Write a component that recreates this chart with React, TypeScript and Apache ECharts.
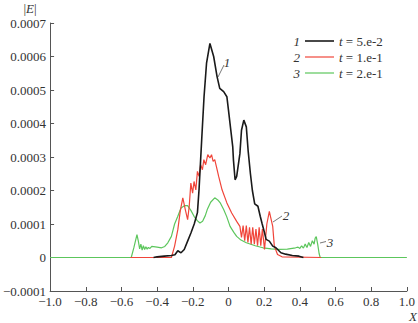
import React, { useEffect, useRef } from "react";
import * as echarts from "echarts";

const xTicks = [-1.0, -0.8, -0.6, -0.4, -0.2, 0, 0.2, 0.4, 0.6, 0.8, 1.0];
const yTicks = [-0.0001, 0, 0.0001, 0.0002, 0.0003, 0.0004, 0.0005, 0.0006, 0.0007];

const legendLabels = ["t = 5.e-2", "t = 1.e-1", "t = 2.e-1"];
const curveNumbers = ["1", "2", "3"];

// t = 5.e-2 (black)
const blackX = [-0.42, -0.4, -0.36, -0.32, -0.3, -0.284, -0.266, -0.248, -0.229, -0.21, -0.192, -0.174, -0.165, -0.156, -0.15, -0.137, -0.123, -0.104, -0.083, -0.064, -0.049, -0.027, -0.009, 0.0, 0.013, 0.024, 0.028, 0.037, 0.046, 0.064, 0.073, 0.086, 0.1, 0.11, 0.123, 0.134, 0.147, 0.165, 0.178, 0.189, 0.202, 0.211, 0.229, 0.248, 0.266, 0.294, 0.32, 0.358, 0.395, 0.42];
const blackY = [0, 0.000002, 0.000004, 0.000006, 0.000008, 0.00002, 0.000014, 0.000024, 0.000049, 0.000074, 0.0001, 0.000134, 0.000203, 0.000293, 0.000353, 0.00048, 0.00058, 0.000639, 0.0006, 0.00054, 0.000505, 0.000495, 0.00048, 0.00044, 0.00038, 0.00033, 0.00029, 0.000232, 0.000242, 0.00031, 0.00038, 0.00041, 0.00039, 0.00032, 0.00025, 0.0002, 0.00016, 0.000153, 0.000123, 0.0001, 0.000074, 0.000054, 0.000049, 0.000034, 0.000029, 0.000014, 0.00001, 0.000006, 0.000004, 0];

// t = 1.e-1 (red)
const redX = [-0.55, -0.32, -0.302, -0.284, -0.27, -0.256, -0.242, -0.229, -0.22, -0.211, -0.201, -0.193, -0.183, -0.174, -0.165, -0.156, -0.146, -0.138, -0.128, -0.116, -0.104, -0.095, -0.086, -0.077, -0.068, -0.055, -0.036, -0.009, 0.018, 0.046, 0.064, 0.073, 0.082, 0.091, 0.1, 0.109, 0.118, 0.127, 0.136, 0.145, 0.154, 0.163, 0.172, 0.181, 0.19, 0.202, 0.215, 0.229, 0.248, 0.257, 0.275, 0.3, 0.52];
const redY = [0, 0, 0.000034, 0.000083, 0.00014, 0.000178, 0.000143, 0.000113, 0.000153, 0.000222, 0.000192, 0.000227, 0.000202, 0.000257, 0.000242, 0.000277, 0.000262, 0.000292, 0.000277, 0.000307, 0.000297, 0.000307, 0.000287, 0.000292, 0.000272, 0.000242, 0.000202, 0.000163, 0.000133, 0.000108, 0.000093, 0.00006, 0.000095, 0.00005, 0.000095, 0.000045, 0.00009, 0.00004, 0.00009, 0.00004, 0.000085, 0.000035, 0.00009, 0.000035, 0.000085, 0.000024, 0.0001, 0.000138, 0.000093, 0.000034, 0.000009, 0.000002, 0];

// t = 2.e-1 (green)
const greenX = [-1.0, -0.545, -0.53, -0.513, -0.505, -0.498, -0.491, -0.484, -0.477, -0.47, -0.463, -0.456, -0.449, -0.44, -0.43, -0.4, -0.375, -0.357, -0.34, -0.32, -0.302, -0.284, -0.266, -0.245, -0.229, -0.21, -0.193, -0.175, -0.16, -0.145, -0.13, -0.119, -0.1, -0.077, -0.06, -0.045, -0.027, -0.01, 0.009, 0.03, 0.046, 0.07, 0.1, 0.15, 0.193, 0.24, 0.284, 0.33, 0.376, 0.39, 0.4, 0.41, 0.42, 0.43, 0.44, 0.45, 0.46, 0.47, 0.48, 0.486, 0.492, 0.5, 0.508, 0.514, 1.0];
const greenY = [0, 0, 0.00003, 0.000068, 0.000048, 0.000026, 0.00004, 0.000022, 0.000035, 0.000024, 0.000032, 0.000025, 0.00003, 0.000027, 0.000033, 0.000031, 0.000029, 0.000033, 0.000044, 0.000063, 0.0001, 0.000123, 0.000148, 0.000155, 0.000155, 0.00014, 0.000123, 0.00011, 0.000103, 0.000108, 0.000125, 0.000143, 0.000165, 0.000178, 0.000172, 0.000162, 0.000143, 0.000122, 0.000093, 0.000075, 0.000063, 0.000052, 0.000044, 0.000035, 0.000029, 0.000026, 0.000024, 0.000025, 0.000029, 0.000031, 0.000027, 0.000035, 0.000028, 0.00004, 0.00003, 0.000045, 0.000033, 0.00005, 0.00004, 0.000058, 0.000062, 0.00004, 0.000012, 0, 0];

const zip = (xs: number[], ys: number[]) => xs.map((x, i) => [x, ys[i]]);

const FONT = "'Liberation Serif', 'Times New Roman', Times, serif";
const AXIS = "#555";
const TXT = "#333";

export default function App() {
  const ref = useRef<HTMLDivElement>(null);
  useEffect(() => {
    document.body.style.margin = "0";
    const chart = echarts.init(ref.current!, null, { renderer: "svg" });
    const fmtY = (v: number) => {
      if (Math.abs(v) < 1e-12) return "0";
      const s = Math.abs(v).toFixed(4);
      return (v < 0 ? "\u2212" : "") + s;
    };
    const fmtX = (v: number) => {
      if (Math.abs(v) < 1e-9) return "0";
      const s = Math.abs(v).toFixed(1);
      return (v < 0 ? "\u2212" : "") + s;
    };
    const colors = ["#1a1a1a", "#f0453a", "#5cc65c"];
    const legendRowsY = [41, 57, 73];
    const italic = { fontStyle: "italic", fontFamily: FONT, fontSize: 13, fill: TXT };
    const txt = (x: number, y: number, text: string, align: string, extra: any = {}) => ({
      type: "text", x, y,
      style: { text, fontFamily: FONT, fontSize: 13, fill: TXT, align, verticalAlign: "middle", ...extra },
    });
    const legendGraphics: any[] = [];
    legendLabels.forEach((lab, i) => {
      const y = legendRowsY[i];
      legendGraphics.push(txt(300, y, curveNumbers[i], "right", { fontStyle: "italic" }));
      legendGraphics.push({
        type: "line", shape: { x1: 305, y1: y, x2: 334, y2: y }, style: { stroke: colors[i], lineWidth: i === 0 ? 1.6 : 1.2 },
      });
      legendGraphics.push(txt(339, y, "{i|t}" + lab.slice(1), "left", { rich: { i: italic } }));
    });
    const annotations: any[] = [
      { type: "line", shape: { x1: 218, y1: 77, x2: 224, y2: 65 }, style: { stroke: "#555", lineWidth: 0.8 } },
      txt(227, 62, "1", "center", { fontStyle: "italic" }),
      { type: "line", shape: { x1: 273, y1: 222, x2: 282, y2: 216 }, style: { stroke: "#555", lineWidth: 0.8 } },
      txt(286, 215, "2", "center", { fontStyle: "italic" }),
      { type: "line", shape: { x1: 320, y1: 243, x2: 326, y2: 241.5 }, style: { stroke: "#555", lineWidth: 0.8 } },
      txt(330, 242, "3", "center", { fontStyle: "italic" }),
      txt(30, 8, "|{i|E}|", "center", { rich: { i: italic } }),
      txt(417, 316, "X", "right", { fontStyle: "italic" }),
    ];
    chart.setOption({
      animation: false,
      textStyle: { fontFamily: FONT },
      grid: { left: 47, right: 8, top: 23, bottom: 32 },
      xAxis: {
        type: "value", min: xTicks[0], max: xTicks[xTicks.length - 1], interval: 0.2,
        axisLine: { onZero: false, lineStyle: { color: AXIS, width: 1 } },
        axisTick: { inside: true, length: 4, lineStyle: { color: AXIS } },
        axisLabel: { formatter: fmtX, fontFamily: FONT, fontSize: 13, color: TXT, margin: 4 },
        splitLine: { show: false },
      },
      yAxis: {
        type: "value", min: yTicks[0], max: yTicks[yTicks.length - 1], interval: 0.0001,
        axisLine: { show: true, onZero: false, lineStyle: { color: AXIS, width: 1 } },
        axisTick: { show: true, inside: true, length: 4, lineStyle: { color: AXIS } },
        axisLabel: { formatter: fmtY, fontFamily: FONT, fontSize: 13, color: TXT, margin: 4 },
        splitLine: { show: false },
      },
      series: [
        { type: "line", data: zip(greenX, greenY), showSymbol: false, symbol: "none", lineStyle: { color: colors[2], width: 1.2 }, z: 1 },
        { type: "line", data: zip(redX, redY), showSymbol: false, symbol: "none", lineStyle: { color: colors[1], width: 1.2 }, z: 2 },
        { type: "line", data: zip(blackX, blackY), showSymbol: false, symbol: "none", lineStyle: { color: colors[0], width: 1.6 }, z: 3 },
      ],
      graphic: [...legendGraphics, ...annotations],
    });
    return () => chart.dispose();
  }, []);
  return <div ref={ref} style={{ width: 418, height: 323 }} />;
}
